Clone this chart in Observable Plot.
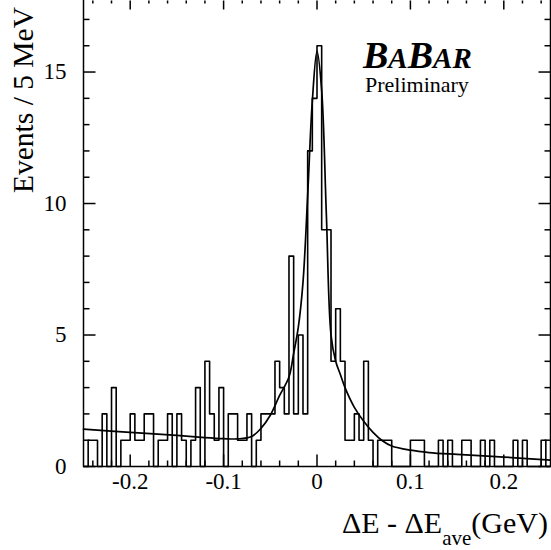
<!DOCTYPE html>
<html><head><meta charset="utf-8">
<script src="https://cdn.jsdelivr.net/npm/d3@7"></script>
<script src="https://cdn.jsdelivr.net/npm/@observablehq/plot@0.6"></script>
<style>html,body{margin:0;padding:0;background:#fff;} svg{display:block;}</style>
</head><body><div id="chart"></div>
<script>
// ---- data ----
const binStart = -0.25;
const binWidth = 0.005;
const counts = [
  0,1,1,0,2,0,3,0,1,1,
  2,1,1,2,2,0,1,1,2,0,
  2,1,0,1,3,0,4,2,1,3,
  0,2,2,1,1,2,0,1,2,2,
  2,4,3,2,8,2,5,2,12,14,
  16,9,9,4,6,4,1,1,2,1,
  4,1,0,1,1,1,0,0,0,0,
  1,1,1,0,0,0,1,0,1,0,
  0,1,1,0,0,1,0,1,0,0,
  0,0,1,0,1,0,0,0,1,0
];
const fitX = [-0.25,-0.2,-0.15,-0.12,-0.1,-0.085,-0.07,-0.06,-0.05,-0.04,-0.03,-0.025,-0.02,-0.015,-0.01,-0.005,0,0.005,0.01,0.015,0.02,0.025,0.03,0.04,0.05,0.06,0.07,0.08,0.1,0.12,0.15,0.2,0.25];
const fitY = [1.42,1.30,1.18,1.10,1.06,1.05,1.14,1.45,1.95,2.7,3.4,4.3,5.3,7.0,10.3,13.9,15.8,14.3,9.6,5.0,4.0,3.5,3.0,2.25,1.72,1.3,0.98,0.78,0.62,0.53,0.46,0.36,0.24];
const xMajorTicks = [-0.2,-0.1,0,0.1,0.2];
const xTickLabels = ["-0.2","-0.1","0","0.1","0.2"];
const xMinorTicks = [-0.24,-0.22,-0.18,-0.16,-0.14,-0.12,-0.08,-0.06,-0.04,-0.02,0.02,0.04,0.06,0.08,0.12,0.14,0.16,0.18,0.22,0.24];
const yMajorTicks = [0,5,10,15];
const yTickLabels = ["0","5","10","15"];
const yMinorTicks = [1,2,3,4,6,7,8,9,11,12,13,14,16,17];
const xTitleMain = "ΔE - ΔE", xTitleSub = "ave", xTitleUnit = "(GeV)";
const yTitle = "Events / 5 MeV";
const logoParts = [["B","big"],["A","small"],["B","big"],["AR","small"]];
const logoSub = "Preliminary";

// ---- build ----
const steps = counts.map((c, i) => ({x: binStart + i * binWidth, y: c}));
steps.push({x: binStart + counts.length * binWidth, y: counts[counts.length - 1]});
const fit = fitX.map((x, i) => ({x, y: fitY[i]}));

const tick = (dx, dy) => ({draw(ctx) { ctx.moveTo(0, 0); ctx.lineTo(dx, dy); }});
const FONT = "Liberation Serif, Times New Roman, serif";
const tickStyle = {stroke: "black", fill: "none", strokeWidth: 1.5};

const plot = Plot.plot({
  width: 551, height: 550,
  marginLeft: 83, marginRight: 1, marginTop: 0, marginBottom: 84,
  x: {domain: [-0.25, 0.25], axis: null},
  y: {domain: [0, 17.72], axis: null},
  style: {fontFamily: FONT, background: "white", color: "black"},
  marks: [
    Plot.ruleX([-0.25, 0.25], {stroke: "black", strokeWidth: 1.5}),
    Plot.ruleY([0], {stroke: "black", strokeWidth: 1.5}),
    Plot.dot(xMajorTicks, {x: d => d, frameAnchor: "bottom", symbol: tick(0, -12), ...tickStyle}),
    Plot.dot(xMinorTicks, {x: d => d, frameAnchor: "bottom", symbol: tick(0, -6), ...tickStyle}),
    Plot.dot(xMajorTicks, {x: d => d, frameAnchor: "top", symbol: tick(0, 9), ...tickStyle}),
    Plot.dot(xMinorTicks, {x: d => d, frameAnchor: "top", symbol: tick(0, 3), ...tickStyle}),
    Plot.dot(yMajorTicks, {y: d => d, frameAnchor: "left", symbol: tick(12, 0), ...tickStyle}),
    Plot.dot(yMinorTicks, {y: d => d, frameAnchor: "left", symbol: tick(6, 0), ...tickStyle}),
    Plot.dot(yMajorTicks, {y: d => d, frameAnchor: "right", symbol: tick(-12, 0), ...tickStyle}),
    Plot.dot(yMinorTicks, {y: d => d, frameAnchor: "right", symbol: tick(-6, 0), ...tickStyle}),
    Plot.line(steps, {x: "x", y: "y", curve: "step-after", stroke: "black", strokeWidth: 1.6}),
    Plot.line(fit, {x: "x", y: "y", curve: "catmull-rom", stroke: "black", strokeWidth: 1.7}),
    Plot.text(xMajorTicks, {x: d => d, text: (d, i) => xTickLabels[i], frameAnchor: "bottom", dy: 22, fontSize: 23, fontFamily: FONT, fill: "black"}),
    Plot.text(yMajorTicks, {y: d => d, text: (d, i) => yTickLabels[i], frameAnchor: "left", dx: -17, textAnchor: "end", fontSize: 23, fontFamily: FONT, fill: "black"})
  ]
});

const svg = d3.select(plot);
const xt = svg.append("text").attr("x", 548).attr("y", 533).attr("text-anchor", "end")
  .attr("font-family", FONT).attr("font-size", 30).attr("fill", "black");
xt.append("tspan").text(xTitleMain);
xt.append("tspan").attr("font-size", 21).attr("dy", 12).text(xTitleSub);
xt.append("tspan").attr("dy", -12).text(xTitleUnit);

svg.append("text").attr("transform", "translate(33,193) rotate(-90)").attr("text-anchor", "start")
  .attr("font-family", FONT).attr("font-size", 29.5).attr("fill", "black").text(yTitle);

const logo = svg.append("text").attr("x", 363).attr("y", 68).attr("text-anchor", "start")
  .attr("font-family", FONT).attr("font-style", "italic").attr("font-weight", "bold").attr("fill", "black");
logoParts.forEach(([t, s]) => logo.append("tspan").attr("font-size", s === "big" ? 38 : 29).text(t));
svg.append("text").attr("x", 365).attr("y", 92).attr("text-anchor", "start").attr("font-family", FONT).attr("font-size", 22)
  .attr("fill", "black").text(logoSub);

document.getElementById("chart").appendChild(plot);
</script>
</body></html>
